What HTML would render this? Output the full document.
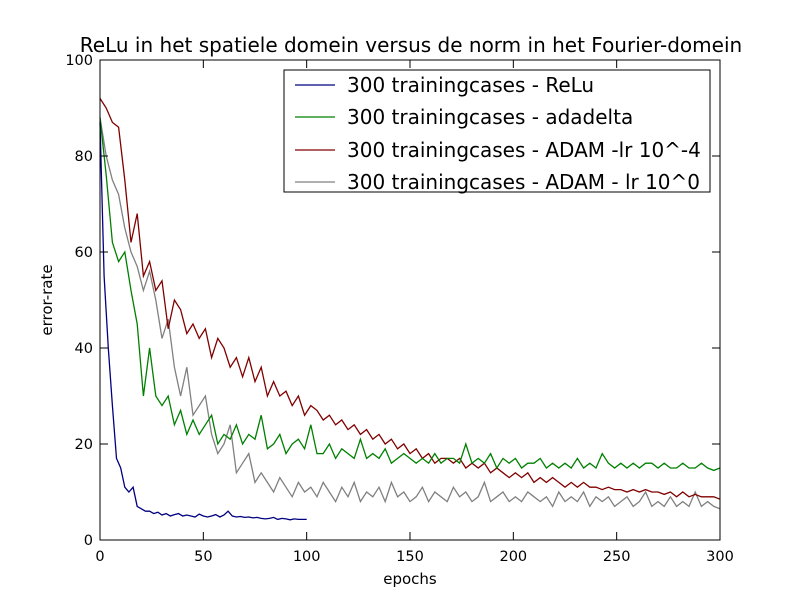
<!DOCTYPE html>
<html><head><meta charset="utf-8"><style>
body{margin:0;background:#fff}
svg text{font-family:"DejaVu Sans","Liberation Sans",sans-serif}
</style></head><body>
<svg width="800" height="600" viewBox="0 0 800 600">
<rect width="800" height="600" fill="#fff"/>
<text x="411" y="52" font-size="20" text-anchor="middle">ReLu in het spatiele domein versus de norm in het Fourier-domein</text>
<g id="series"></g>
<rect x="100" y="60" width="620" height="480" fill="none" stroke="#000" stroke-width="1"/>
<g id="axes"></g>
<text x="410" y="584" font-size="15" text-anchor="middle">epochs</text>
<text x="52" y="300" font-size="15" text-anchor="middle" transform="rotate(-90 52 300)">error-rate</text>
<g>
<rect x="284" y="70" width="426" height="122" fill="#fff" stroke="#000" stroke-width="1"/>
<line x1="295" y1="85" x2="335" y2="85" stroke="#000080" stroke-width="1.3"/>
<text x="347" y="92" font-size="20">300 trainingcases - ReLu</text>
<line x1="295" y1="117" x2="335" y2="117" stroke="#008000" stroke-width="1.3"/>
<text x="347" y="124" font-size="20">300 trainingcases - adadelta</text>
<line x1="295" y1="150" x2="335" y2="150" stroke="#800000" stroke-width="1.3"/>
<text x="347" y="157" font-size="20">300 trainingcases - ADAM -lr 10^-4</text>
<line x1="295" y1="182" x2="335" y2="182" stroke="#808080" stroke-width="1.3"/>
<text x="347" y="189" font-size="20">300 trainingcases - ADAM - lr 10^0</text>
</g>
</svg>
<script>
const xTicks=[0,50,100,150,200,250,300];
const yTicks=[0,20,40,60,80,100];
const reluY=[87,55,40,28,17,15,11,10,11,7,6.5,6,6,5.5,5.8,5.2,5.5,5,5.3,5.5,5,5.2,5,4.8,5.4,5,4.8,5,5.3,4.8,5.2,6,5,4.8,4.9,4.7,4.8,4.6,4.7,4.5,4.4,4.5,4.7,4.3,4.5,4.4,4.2,4.4,4.3,4.3,4.3];
const adadeltaY=[88,76,62,58,60,52,45,30,40,30,28,30,24,27,22,25,22,24,26,20,22,21,24,20,22,21,26,19,20,22,18,20,21,19,24,18,18,20,17,19,18,17,21,17,18,17,19,16,17,18,17,16,17,16,18,16,17,17,16,20,16,17,16,18,15,17,16,17,15,16,16,17,15,16,15,16,15,17,15,16,15,18,16,15,16,15,16,15,16,16,15,16,15,15,16,15,15,16,15,14.5,15];
const adamLr4Y=[92,90,87,86,75,62,68,55,58,52,54,44,50,48,43,45,42,44,38,42,40,36,38,34,38,33,36,30,33,30,31,28,30,26,28,27,25,26,24,25,23,24,22,23,21,22,20,21,19,20,18,19,17,18,16,17,17,16,17,15,16,15,16,14,15,14,13,14,13,14,12,13,12,13,12,11,12,11,12,11,11,10.5,11,10.5,10.5,10,10.5,10,10.5,10,10,9.5,10,9,10,9,9.5,9,9,9,8.5];
const adamLr0Y=[88,80,75,72,65,60,57,52,56,50,42,46,36,30,36,26,28,30,22,18,20,24,14,16,18,12,14,12,10,13,11,9,12,10,11,9,12,10,8,11,9,12,8,10,9,11,8,12,9,10,8,9,11,8,10,9,8,11,9,10,8,9,12,8,9,10,8,9,8,10,9,8,9,7,10,8,9,8,10,7,9,8,9,7,8,9,7,8,10,7,8,7,9,7,8,7,10,7,8,7,6.5];
const X=e=>100+e*620/300, Y=v=>540-v*4.8;
const ns="http://www.w3.org/2000/svg";
const g=document.getElementById('series'), ax=document.getElementById('axes');
function line(vals,step,color,name){
  const p=document.createElementNS(ns,'polyline');
  p.setAttribute('points',vals.map((v,i)=>X(i*step).toFixed(1)+','+Y(v).toFixed(1)).join(' '));
  p.setAttribute('fill','none');p.setAttribute('stroke',color);p.setAttribute('stroke-width','1.3');
  
  
  g.appendChild(p);
}
line(adamLr0Y,3,'#808080','series-adam-lr0');
line(adamLr4Y,3,'#800000','series-adam-lr4');
line(adadeltaY,3,'#008000','series-adadelta');
line(reluY,2,'#000080','series-relu');
xTicks.forEach(t=>{
  const x=X(t);
  ax.insertAdjacentHTML('beforeend',`<line x1="${x}" y1="540" x2="${x}" y2="532" stroke="#000"/><line x1="${x}" y1="60" x2="${x}" y2="68" stroke="#000"/>`);
  const tx=document.createElementNS(ns,'text');
  tx.setAttribute('x',x);tx.setAttribute('y',561);tx.setAttribute('font-size','14.5');tx.setAttribute('text-anchor','middle');
  tx.textContent=t;
  
  
  ax.appendChild(tx);
});
yTicks.forEach(t=>{
  const y=Y(t);
  ax.insertAdjacentHTML('beforeend',`<line x1="100" y1="${y}" x2="108" y2="${y}" stroke="#000"/><line x1="720" y1="${y}" x2="712" y2="${y}" stroke="#000"/>`);
  const tx=document.createElementNS(ns,'text');
  tx.setAttribute('x',93);tx.setAttribute('y',y+5);tx.setAttribute('font-size','14.5');tx.setAttribute('text-anchor','end');
  tx.textContent=t;
  
  
  ax.appendChild(tx);
});
</script>
</body></html>
